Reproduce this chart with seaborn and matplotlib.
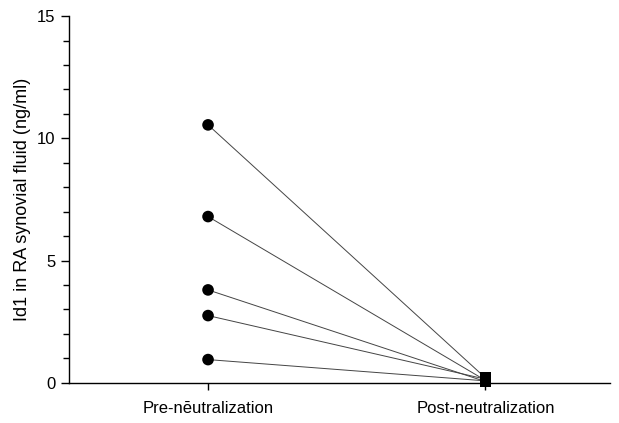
import pandas as pd
import matplotlib
matplotlib.use("Agg")
import matplotlib.pyplot as plt
import seaborn as sns
from matplotlib.ticker import MultipleLocator

# values (ng/ml)
conditions = ["Pre-nēutralization", "Post-neutralization"]
subjects = ["S1", "S2", "S3", "S4", "S5"]
pre_values = [10.55, 6.8, 3.8, 2.75, 0.95]
post_values = [0.2, 0.1, 0.05, 0.15, 0.08]

df = pd.DataFrame({
    "subject": subjects * 2,
    "condition": [conditions[0]] * len(subjects) + [conditions[1]] * len(subjects),
    "value": pre_values + post_values,
})
df["pos"] = df["condition"].map({c: i for i, c in enumerate(conditions)})

sns.set_style("ticks")
plt.rcParams["font.family"] = ["Liberation Sans", "DejaVu Sans"]
plt.rcParams["text.color"] = "black"
plt.rcParams["axes.labelcolor"] = "black"
plt.rcParams["xtick.color"] = "black"
plt.rcParams["ytick.color"] = "black"

fig, ax = plt.subplots(figsize=(6.19, 4.23), dpi=100)
fig.subplots_adjust(left=0.112, right=0.986, top=0.962, bottom=0.095)

sns.lineplot(data=df, x="pos", y="value", units="subject", estimator=None,
             color="#444444", linewidth=0.7, ax=ax, legend=False)
sns.scatterplot(data=df, x="pos", y="value", style="condition",
                markers={conditions[0]: "o", conditions[1]: "s"},
                color="black", s=70, edgecolor="black", linewidth=0,
                ax=ax, legend=False, zorder=3, clip_on=False)

ax.set_xlim(-0.5, 1.45)
ax.set_ylim(0, 15)
ax.set_xticks([0, 1])
ax.set_xticklabels(conditions, fontsize=12)
ax.yaxis.set_major_locator(MultipleLocator(5))
ax.yaxis.set_minor_locator(MultipleLocator(1))
ax.tick_params(axis="y", which="major", length=6, width=1, labelsize=12, pad=4)
ax.tick_params(axis="y", which="minor", length=4, width=1)
ax.tick_params(axis="x", length=5, width=1, pad=8)
ax.set_xlabel("")
ax.set_ylabel("Id1 in RA synovial fluid (ng/ml)", fontsize=13, labelpad=4)
sns.despine(ax=ax)
for sp in ax.spines.values():
    sp.set_linewidth(1)
    sp.set_color("black")

fig.savefig("out.png", dpi=100)
